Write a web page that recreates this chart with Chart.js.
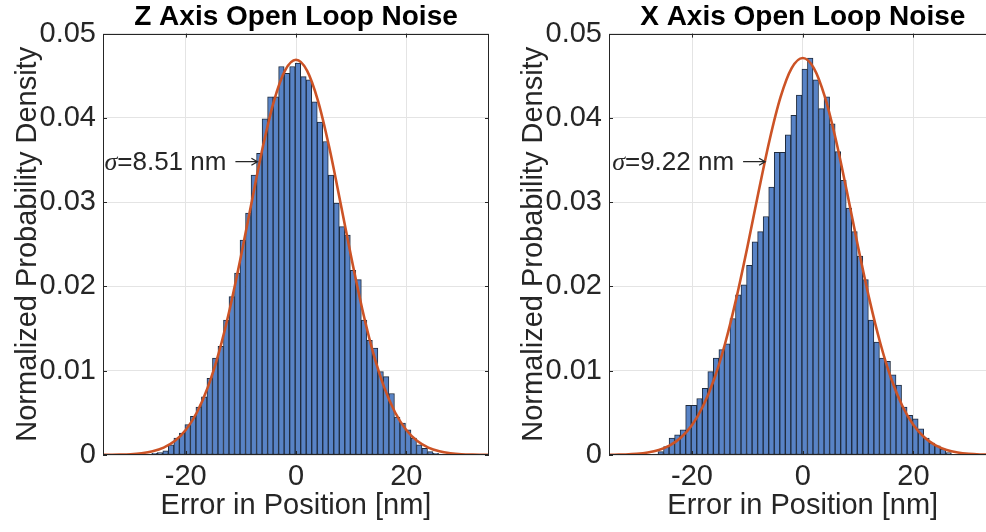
<!DOCTYPE html>
<html>
<head>
<meta charset="utf-8">
<script src="https://cdn.jsdelivr.net/npm/chart.js@4.4.1/dist/chart.umd.min.js"></script>
<style>
  html, body { margin: 0; padding: 0; background: #fff; overflow: hidden; }
  #wrap { position: relative; width: 986px; height: 532px; overflow: hidden; background: #fff; }
  canvas { position: absolute; top: 0; }
  #zChart { left: 0; }
  #xChart { left: 493px; }
</style>
</head>
<body>
<div id="wrap">
  <canvas id="zChart" width="493" height="532"></canvas>
  <canvas id="xChart" width="510" height="532"></canvas>
</div>
<script>
// histogram bins (1 nm wide), centres in nm
const binCenters = [-26.65, -25.65, -24.65, -23.65, -22.65, -21.65, -20.65, -19.65, -18.65, -17.65,
  -16.65, -15.65, -14.65, -13.65, -12.65, -11.65, -10.65, -9.65, -8.65, -7.65,
  -6.65, -5.65, -4.65, -3.65, -2.65, -1.65, -0.65, 0.35, 1.35, 2.35,
  3.35, 4.35, 5.35, 6.35, 7.35, 8.35, 9.35, 10.35, 11.35, 12.35,
  13.35, 14.35, 15.35, 16.35, 17.35, 18.35, 19.35, 20.35, 21.35, 22.35,
  23.35, 24.35, 25.35, 26.35];

// Z axis normalized density per bin
const zDensity = [0.0001, 0.0002, 0.0003, 0.0005, 0.0012, 0.0020, 0.0026, 0.0036, 0.0046, 0.0057,
  0.0069, 0.0091, 0.0115, 0.0129, 0.0160, 0.0188, 0.0216, 0.0255, 0.0287, 0.0332,
  0.0358, 0.0399, 0.0425, 0.0425, 0.0461, 0.0453, 0.0461, 0.0465, 0.0449, 0.0445,
  0.0419, 0.0395, 0.0372, 0.0332, 0.0299, 0.0271, 0.0261, 0.0219, 0.0208, 0.0160,
  0.0136, 0.0127, 0.0099, 0.0093, 0.0073, 0.0045, 0.0038, 0.0030, 0.0020, 0.0012,
  0.0008, 0.0004, 0.0002, 0.0001];

// X axis normalized density per bin
const xDensity = [0.0001, 0.0004, 0.0010, 0.0020, 0.0024, 0.0030, 0.0059, 0.0059, 0.0067, 0.0079,
  0.0099, 0.0115, 0.0125, 0.0132, 0.0162, 0.0190, 0.0202, 0.0225, 0.0253, 0.0265,
  0.0283, 0.0318, 0.0359, 0.0359, 0.0380, 0.0403, 0.0427, 0.0458, 0.0471, 0.0445,
  0.0411, 0.0425, 0.0393, 0.0360, 0.0326, 0.0293, 0.0265, 0.0236, 0.0208, 0.0160,
  0.0134, 0.0115, 0.0111, 0.0095, 0.0083, 0.0057, 0.0047, 0.0043, 0.0031, 0.0020,
  0.0014, 0.0011, 0.0007, 0.0003];

// fitted curves
const curvePos = [-35, -34, -32, -30, -28, -26, -24, -22, -20, -18, -16, -14, -12, -10, -8, -6, -4, -2, 0,
  2, 4, 6, 8, 10, 12, 14, 16, 18, 20, 22, 24, 26, 28, 30, 32, 34, 35];
const zFit = [0.00001, 0.00002, 0.00004, 0.00009, 0.00021, 0.00044, 0.00088, 0.00166, 0.00297, 0.00501,
  0.00802, 0.01212, 0.01736, 0.02351, 0.03015, 0.03660, 0.04200, 0.04562, 0.0469,
  0.04562, 0.04200, 0.03660, 0.03015, 0.02351, 0.01736, 0.01212, 0.00802, 0.00501, 0.00297,
  0.00166, 0.00088, 0.00044, 0.00021, 0.00009, 0.00004, 0.00002, 0.00001];
const xFit = [0.00001, 0.00003, 0.00006, 0.00014, 0.00030, 0.00060, 0.00114, 0.00207, 0.00356, 0.00582,
  0.00902, 0.01329, 0.01858, 0.02467, 0.03117, 0.03735, 0.04248, 0.04590, 0.0471,
  0.04590, 0.04248, 0.03735, 0.03117, 0.02467, 0.01858, 0.01329, 0.00902, 0.00582, 0.00356,
  0.00207, 0.00114, 0.00060, 0.00030, 0.00014, 0.00006, 0.00003, 0.00001];

const xTicks = [-20, 0, 20];
const yTicks = [0, 0.01, 0.02, 0.03, 0.04, 0.05];

const zSigma = 8.51;
const xSigma = 9.22;
const zNoteAt = [-7.0, 0.0348];   // arrow tip (nm, density)
const xNoteAt = [-6.8, 0.0348];

const ink = "#262626";
const family = "'Liberation Sans', Arial, sans-serif";

function pairs(xs, ys) {
  return xs.map((x, i) => ({ x: x, y: ys[i] }));
}

// box round the axes, inward ticks, and the sigma note
const framePlugin = {
  id: "frame",
  afterDatasetsDraw(chart, args, opts) {
    const ctx = chart.ctx;
    const a = chart.chartArea;
    const sx = chart.scales.x, sy = chart.scales.y;
    ctx.save();
    ctx.strokeStyle = ink;
    ctx.lineWidth = 1;
    ctx.strokeRect(Math.round(a.left) + 0.5, Math.round(a.top) + 0.5,
      Math.round(a.right - a.left) - 1, Math.round(a.bottom - a.top) - 1);
    ctx.beginPath();
    xTicks.forEach(v => {
      const p = Math.round(sx.getPixelForValue(v)) + 0.5;
      ctx.moveTo(p, a.bottom); ctx.lineTo(p, a.bottom - 4);
      ctx.moveTo(p, a.top); ctx.lineTo(p, a.top + 4);
    });
    yTicks.forEach(v => {
      const p = Math.round(sy.getPixelForValue(v)) + 0.5;
      ctx.moveTo(a.left, p); ctx.lineTo(a.left + 4, p);
      ctx.moveTo(a.right, p); ctx.lineTo(a.right - 4, p);
    });
    ctx.stroke();

    // sigma note with arrow
    const tipX = sx.getPixelForValue(opts.at[0]);
    const tipY = sy.getPixelForValue(opts.at[1]);
    ctx.lineWidth = 1.3;
    ctx.beginPath();
    ctx.moveTo(tipX - 22, tipY); ctx.lineTo(tipX, tipY);
    ctx.moveTo(tipX - 6, tipY - 3.5); ctx.lineTo(tipX, tipY); ctx.lineTo(tipX - 6, tipY + 3.5);
    ctx.stroke();
    ctx.fillStyle = ink;
    ctx.textAlign = "right";
    ctx.textBaseline = "middle";
    ctx.font = "26px " + family;
    const label = "=" + opts.sigma.toFixed(2) + " nm";
    const right = tipX - 31;
    ctx.fillText(label, right, tipY + 1);
    const w = ctx.measureText(label).width;
    ctx.font = "italic 26px 'Liberation Serif', serif";
    ctx.fillText("\u03c3", right - w, tipY + 1);
    ctx.restore();
  }
};

function makeChart(id, title, density, fit, sigma, noteAt, axisWidth, padRight, yTitlePad) {
  return new Chart(document.getElementById(id), {
    type: "bar",
    data: {
      datasets: [
        {
          type: "line",
          data: pairs(curvePos, fit),
          borderColor: "#cc5326",
          borderWidth: 2.6,
          pointRadius: 0,
          cubicInterpolationMode: "monotone",
          fill: false,
          order: 1
        },
        {
          type: "bar",
          data: pairs(binCenters, density),
          backgroundColor: "#5883c6",
          borderColor: "#1f2b3d",
          borderWidth: 1,
          borderSkipped: false,
          barPercentage: 1,
          categoryPercentage: 1,
          order: 2
        }
      ]
    },
    options: {
      responsive: false,
      animation: false,
      events: [],
      layout: { padding: { left: 0, right: padRight, top: 0, bottom: 0 } },
      plugins: {
        legend: { display: false },
        tooltip: { enabled: false },
        title: {
          display: true,
          text: title,
          fullSize: false,
          color: "#000",
          font: { family: family, size: 28, weight: "bold" },
          padding: { top: 0, bottom: 0 }
        },
        frame: { sigma: sigma, at: noteAt }
      },
      scales: {
        x: {
          type: "linear",
          min: -35,
          max: 35,
          offset: false,
          afterBuildTicks: s => { s.ticks = xTicks.map(v => ({ value: v })); },
          afterFit: s => { s.height = 77; },
          grid: { color: "#e4e4e4", drawTicks: false, offset: false },
          border: { display: false },
          ticks: { color: ink, font: { family: family, size: 29 }, padding: 5, maxRotation: 0 },
          title: {
            display: true,
            text: "Error in Position [nm]",
            color: ink,
            font: { family: family, size: 29 },
            padding: { top: 0, bottom: 9 }
          }
        },
        y: {
          min: 0,
          max: 0.05,
          afterBuildTicks: s => { s.ticks = yTicks.map(v => ({ value: v })); },
          afterFit: s => { s.width = axisWidth; },
          grid: { color: "#e4e4e4", drawTicks: false },
          border: { display: false },
          ticks: { color: ink, font: { family: family, size: 29 }, padding: 7, callback: v => String(v) },
          title: {
            display: true,
            text: "Normalized Probability Density",
            color: ink,
            font: { family: family, size: 29 },
            padding: { top: yTitlePad, bottom: 0 }
          }
        }
      }
    },
    plugins: [framePlugin]
  });
}

makeChart("zChart", "Z Axis Open Loop Noise", zDensity, zFit, zSigma, zNoteAt, 103, 4, 11);
makeChart("xChart", "X Axis Open Loop Noise", xDensity, xFit, xSigma, xNoteAt, 116, 6.5, 24);
</script>
</body>
</html>
